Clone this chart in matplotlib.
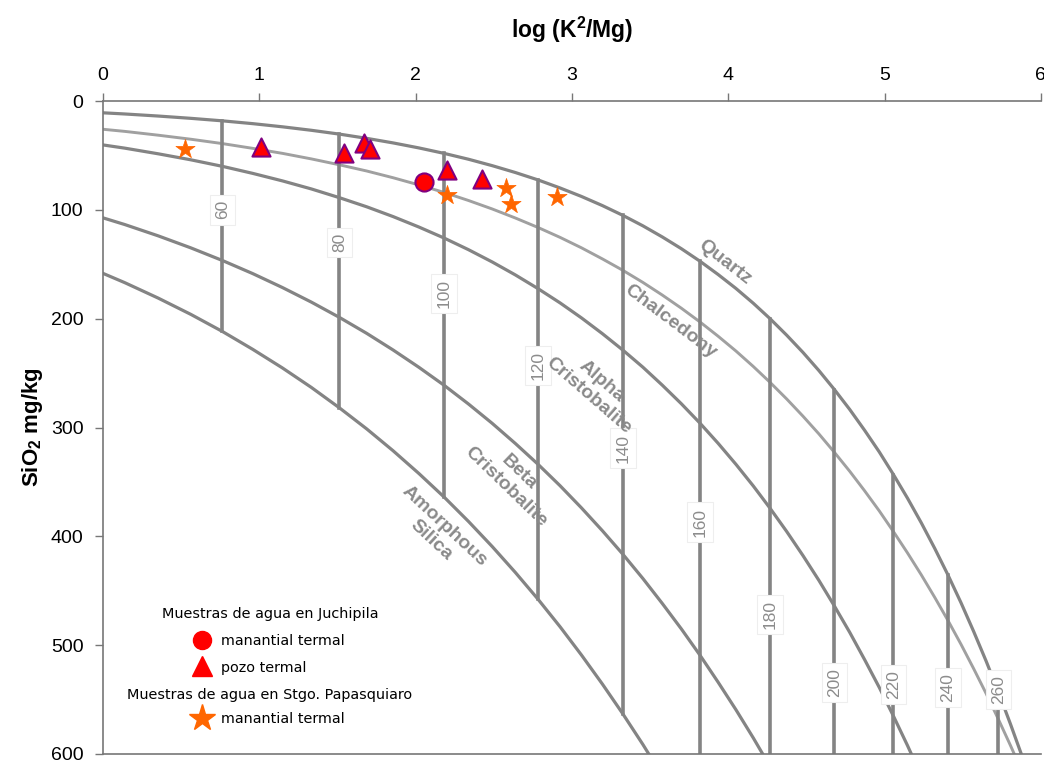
import matplotlib.pyplot as plt
from matplotlib.lines import Line2D

# temperatura (°C) y log(K2/Mg) del geotermometro K-Mg
temp_c = list(range(40, 275, 5))
log_k2mg = [-0.083, 0.139, 0.353, 0.561, 0.763, 0.958, 1.148, 1.333,
            1.512, 1.687, 1.856, 2.021, 2.182, 2.338, 2.490, 2.638,
            2.783, 2.924, 3.061, 3.195, 3.326, 3.454, 3.578, 3.700,
            3.819, 3.935, 4.049, 4.160, 4.268, 4.374, 4.478, 4.580,
            4.679, 4.777, 4.872, 4.966, 5.057, 5.147, 5.235, 5.321,
            5.406, 5.489, 5.570, 5.650, 5.728, 5.805, 5.881]

# SiO2 (mg/kg) de cada fase a esas temperaturas
quartz = [10.2, 11.9, 13.8, 15.9, 18.2, 20.8, 23.7, 26.9, 30.4, 34.3,
          38.5, 43.1, 48.1, 53.5, 59.4, 65.7, 72.5, 79.9, 87.7, 96.1,
          105.1, 114.7, 124.9, 135.7, 147.2, 159.4, 172.2, 185.8, 200.1,
          215.2, 231.0, 247.7, 265.1, 283.4, 302.5, 322.4, 343.3, 365.0,
          387.6, 411.1, 435.6, 461.0, 487.4, 514.7, 543.0, 572.3, 602.5]
chalcedony = [24.8, 27.9, 31.4, 35.1, 39.1, 43.5, 48.1, 53.2, 58.6, 64.3,
              70.5, 77.1, 84.0, 91.4, 99.2, 107.5, 116.2, 125.3, 134.9,
              145.1, 155.6, 166.7, 178.3, 190.4, 203.0, 216.1, 229.7,
              243.9, 258.6, 273.8, 289.6, 305.9, 322.8, 340.2, 358.1,
              376.6, 395.7, 415.3, 435.4, 456.1, 477.4, 499.2, 521.6,
              544.5, 568.0, 592.0, 616.6]
alpha_crist = [38.6, 43.3, 48.5, 54.0, 60.0, 66.5, 73.4, 80.8, 88.8, 97.2,
               106.2, 115.8, 125.9, 136.6, 147.9, 159.8, 172.4, 185.5,
               199.3, 213.8, 228.9, 244.6, 261.1, 278.2, 296.0, 314.5,
               333.8, 353.7, 374.3, 395.6, 417.7, 440.5, 464.0, 488.2,
               513.2, 538.8, 565.2, 592.3, 620.2]
beta_crist = [103.7, 113.5, 123.9, 134.9, 146.5, 158.6, 171.4, 184.8,
              198.8, 213.5, 228.8, 244.7, 261.2, 278.4, 296.2, 314.7,
              333.8, 353.5, 373.9, 394.9, 416.5, 438.8, 461.7, 485.1,
              509.2, 534.0, 559.3, 585.2, 611.7]
amorphous = [153.3, 166.9, 181.1, 196.0, 211.7, 228.2, 245.3, 263.2,
             281.9, 301.3, 321.4, 342.3, 363.9, 386.3, 409.4, 433.2,
             457.8, 483.1, 509.1, 535.8, 563.2, 591.3, 620.1]

# isotermas marcadas
iso_temps = [60, 80, 100, 120, 140, 160, 180, 200, 220, 240, 260]
iso_label_y = [100, 130, 177, 243, 319, 387, 472, 534, 536, 539, 541]

# muestras
jp_man_x = [2.055]
jp_man_y = [74.7]
jp_pozo_x = [1.012, 1.544, 1.667, 1.709, 2.199, 2.427]
jp_pozo_y = [42.6, 47.5, 38.3, 44.4, 63.4, 72.0]
sp_man_x = [0.526, 2.203, 2.575, 2.611, 2.907]
sp_man_y = [44.4, 86.4, 80.3, 94.7, 88.5]

GRAY = '#848484'
plt.rcParams['font.family'] = ['Liberation Sans', 'DejaVu Sans']

fig = plt.figure(figsize=(10.44, 7.63), dpi=100)
ax = fig.add_axes([0.0987, 0.0118, 0.8983, 0.8558])

ax.plot(log_k2mg[:len(quartz)], quartz, color=GRAY, lw=2.3, zorder=2)
ax.plot(log_k2mg[:len(chalcedony)], chalcedony, color='#a0a0a0', lw=2.1, zorder=2)
ax.plot(log_k2mg[:len(alpha_crist)], alpha_crist, color=GRAY, lw=2.3, zorder=2)
ax.plot(log_k2mg[:len(beta_crist)], beta_crist, color=GRAY, lw=2.3, zorder=2)
ax.plot(log_k2mg[:len(amorphous)], amorphous, color=GRAY, lw=2.3, zorder=2)

for t, ly in zip(iso_temps, iso_label_y):
    i = temp_c.index(t)
    x = log_k2mg[i]
    bottom = amorphous[i] if i < len(amorphous) else 600
    ax.plot([x, x], [quartz[i], bottom], color=GRAY, lw=2.6, zorder=2)
    ax.text(x, ly, str(t), rotation=90, ha='center', va='center',
            fontsize=12.5, color='#8c8c8c', zorder=3,
            bbox=dict(boxstyle='square,pad=0.3', fc='white', ec='#eeeeee', lw=0.8))

lab = dict(color='#8a8a8a', fontsize=14, fontweight='bold', ha='center',
           va='center', multialignment='center', zorder=3)
ax.text(3.98, 148, 'Quartz', rotation=-38, **lab)
ax.text(3.63, 203, 'Chalcedony', rotation=-37, **lab)
ax.text(3.15, 264, 'Alpha\nCristobalite', rotation=-41, **lab)
ax.text(2.62, 348, 'Beta\nCristobalite', rotation=-44, **lab)
ax.text(2.14, 397, 'Amorphous\nSilica', rotation=-43, **lab)

ax.scatter(jp_man_x, jp_man_y, s=170, marker='o', color='red',
           edgecolor='purple', linewidth=1.5, zorder=5)
ax.scatter(jp_pozo_x, jp_pozo_y, s=170, marker='^', color='red',
           edgecolor='purple', linewidth=1.5, zorder=5)
ax.scatter(sp_man_x, sp_man_y, s=210, marker='*', color='#ff6600',
           edgecolor='#ff6600', linewidth=0.5, zorder=5)

ax.set_xlim(0, 6)
ax.set_ylim(600, 0)
ax.set_xticks(range(7))
ax.set_yticks(range(0, 700, 100))
ax.xaxis.tick_top()
ax.xaxis.set_label_position('top')
ax.set_xlabel('log (K$^\\mathregular{2}$/Mg)', fontsize=16.5, fontweight='bold', labelpad=21)
ax.set_ylabel('SiO$_\\mathregular{2}$ mg/kg', fontsize=16, fontweight='bold', labelpad=4)
ax.tick_params(labelsize=14, color='#777777', length=6, width=1)
ax.tick_params(axis='x', pad=6)
ax.tick_params(axis='y', pad=8)
for side in ['top', 'left', 'bottom']:
    ax.spines[side].set_color('#777777')
    ax.spines[side].set_linewidth(1.2)
ax.spines['right'].set_visible(False)

leg_font = {'family': 'DejaVu Sans', 'size': 10.4}
h1 = [Line2D([], [], ls='none', marker='o', ms=13, color='red'),
      Line2D([], [], ls='none', marker='^', ms=15, color='red')]
leg1 = ax.legend(h1, ['manantial termal', 'pozo termal'],
                 title='Muestras de agua en Juchipila', prop=leg_font,
                 title_fontproperties=leg_font, frameon=False,
                 loc='upper center', bbox_to_anchor=(0.178, 0.240),
                 handlelength=1.0, handletextpad=0.8, labelspacing=0.87,
                 borderpad=0.2)
ax.add_artist(leg1)
h2 = [Line2D([], [], ls='none', marker='*', ms=20, color='#ff6600')]
ax.legend(h2, ['manantial termal'],
          title='Muestras de agua en Stgo. Papasquiaro', prop=leg_font,
          title_fontproperties=leg_font, frameon=False,
          loc='upper center', bbox_to_anchor=(0.178, 0.117),
          handlelength=1.0, handletextpad=0.8, labelspacing=0.7,
          borderpad=0.2)

fig.savefig('out.png')
